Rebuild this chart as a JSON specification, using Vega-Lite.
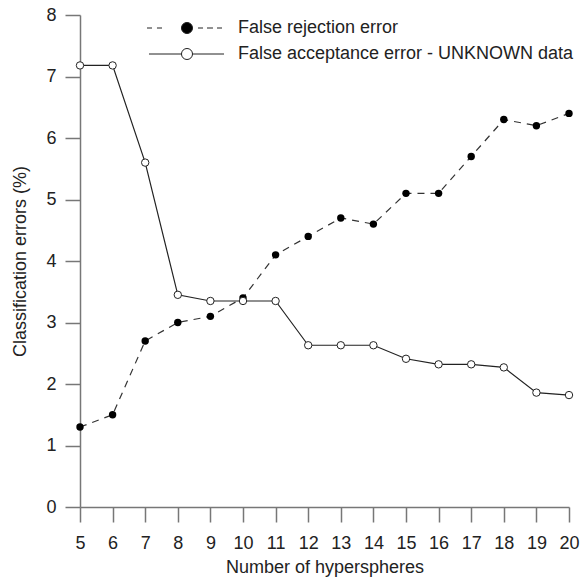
{
  "$schema": "https://vega.github.io/schema/vega-lite/v6.json",
  "width": 489,
  "height": 492,
  "autosize": {"type": "none"},
  "padding": {"left": 80, "top": 15, "right": 11, "bottom": 71},
  "background": "white",
  "config": {
    "view": {"stroke": null},
    "font": "Liberation Sans",
    "axis": {
      "grid": false,
      "domainColor": "#777",
      "domainWidth": 1.5,
      "tickColor": "#777",
      "tickWidth": 1.5,
      "tickSize": 15,
      "labelFont": "Liberation Sans",
      "labelFontSize": 18,
      "labelColor": "#222",
      "labelFlush": false,
      "labelOverlap": false,
      "titleFont": "Liberation Sans",
      "titleFontSize": 18,
      "titleFontWeight": "normal",
      "titleColor": "#222"
    },
    "legend": {
      "labelFont": "Liberation Sans",
      "labelFontSize": 18,
      "labelColor": "#222",
      "labelLimit": 400
    }
  },
  "data": {
    "values": [
      {"n": 5, "series": "False rejection error", "v": 1.3},
      {"n": 6, "series": "False rejection error", "v": 1.5},
      {"n": 7, "series": "False rejection error", "v": 2.7},
      {"n": 8, "series": "False rejection error", "v": 3.0},
      {"n": 9, "series": "False rejection error", "v": 3.1},
      {"n": 10, "series": "False rejection error", "v": 3.4},
      {"n": 11, "series": "False rejection error", "v": 4.1},
      {"n": 12, "series": "False rejection error", "v": 4.4},
      {"n": 13, "series": "False rejection error", "v": 4.7},
      {"n": 14, "series": "False rejection error", "v": 4.6},
      {"n": 15, "series": "False rejection error", "v": 5.1},
      {"n": 16, "series": "False rejection error", "v": 5.1},
      {"n": 17, "series": "False rejection error", "v": 5.7},
      {"n": 18, "series": "False rejection error", "v": 6.3},
      {"n": 19, "series": "False rejection error", "v": 6.2},
      {"n": 20, "series": "False rejection error", "v": 6.4},
      {"n": 5, "series": "False acceptance error - UNKNOWN data", "v": 7.18},
      {"n": 6, "series": "False acceptance error - UNKNOWN data", "v": 7.18},
      {"n": 7, "series": "False acceptance error - UNKNOWN data", "v": 5.6},
      {"n": 8, "series": "False acceptance error - UNKNOWN data", "v": 3.45},
      {"n": 9, "series": "False acceptance error - UNKNOWN data", "v": 3.35},
      {"n": 10, "series": "False acceptance error - UNKNOWN data", "v": 3.35},
      {"n": 11, "series": "False acceptance error - UNKNOWN data", "v": 3.35},
      {"n": 12, "series": "False acceptance error - UNKNOWN data", "v": 2.63},
      {"n": 13, "series": "False acceptance error - UNKNOWN data", "v": 2.63},
      {"n": 14, "series": "False acceptance error - UNKNOWN data", "v": 2.63},
      {"n": 15, "series": "False acceptance error - UNKNOWN data", "v": 2.41},
      {"n": 16, "series": "False acceptance error - UNKNOWN data", "v": 2.32},
      {"n": 17, "series": "False acceptance error - UNKNOWN data", "v": 2.32},
      {"n": 18, "series": "False acceptance error - UNKNOWN data", "v": 2.27},
      {"n": 19, "series": "False acceptance error - UNKNOWN data", "v": 1.86},
      {"n": 20, "series": "False acceptance error - UNKNOWN data", "v": 1.82}
    ]
  },
  "encoding": {
    "x": {
      "field": "n",
      "type": "quantitative",
      "scale": {"domain": [5, 20], "nice": false, "zero": false},
      "axis": {"values": [5,6,7,8,9,10,11,12,13,14,15,16,17,18,19,20], "title": "Number of hyperspheres", "labelPadding": 12, "titlePadding": 6}
    },
    "y": {
      "field": "v",
      "type": "quantitative",
      "scale": {"domain": [0, 8], "nice": false},
      "axis": {"values": [0,1,2,3,4,5,6,7,8], "title": "Classification errors (%)", "labelPadding": 9, "titlePadding": 16}
    }
  },
  "layer": [
    {
      "transform": [{"filter": "datum.series === 'False rejection error'"}],
      "mark": {"type": "line", "color": "#333", "strokeWidth": 1.2, "strokeDash": [7, 6]},
      "encoding": {}
    },
    {
      "transform": [{"filter": "datum.series !== 'False rejection error'"}],
      "mark": {"type": "line", "color": "#222", "strokeWidth": 1.2},
      "encoding": {}
    },
    {
      "transform": [{"filter": "datum.series === 'False rejection error'"}],
      "mark": {"type": "point", "shape": "circle", "filled": true, "color": "black", "size": 55, "opacity": 1},
      "encoding": {}
    },
    {
      "transform": [{"filter": "datum.series !== 'False rejection error'"}],
      "mark": {"type": "point", "shape": "circle", "filled": false, "fill": "white", "stroke": "#222", "strokeWidth": 1, "size": 55, "opacity": 1},
      "encoding": {}
    },
    {
      "transform": [{"filter": "false"}],
      "mark": {"type": "point", "filled": true, "stroke": "#222", "strokeWidth": 1, "opacity": 1},
      "encoding": {
        "shape": {
          "field": "series",
          "type": "nominal",
          "scale": {
            "domain": ["False rejection error", "False acceptance error - UNKNOWN data"],
            "range": [
              "M-5.71,0H-5M-4.29,0H-3.57M1.57,0H2.29M2.86,0H3.71M4.29,0H5M0.79,0A0.79,0.79,0,1,1,-0.79,0A0.79,0.79,0,1,1,0.79,0Z",
              "M-5.43,0H-0.79M0.79,0H5.29M0.79,0A0.79,0.79,0,1,1,-0.79,0A0.79,0.79,0,1,1,0.79,0Z"
            ]
          },
          "legend": {
            "title": null,
            "orient": "none",
            "legendX": 98,
            "legendY": 4,
            "padding": 0,
            "symbolSize": 196,
            "symbolStrokeWidth": 1,
            "labelOffset": 42,
            "rowPadding": 8
          }
        },
        "fill": {
          "field": "series",
          "type": "nominal",
          "scale": {
            "domain": ["False rejection error", "False acceptance error - UNKNOWN data"],
            "range": ["black", "white"]
          },
          "legend": {
            "title": null,
            "orient": "none",
            "legendX": 98,
            "legendY": 4,
            "padding": 0,
            "symbolSize": 196,
            "symbolStrokeWidth": 1,
            "labelOffset": 42,
            "rowPadding": 8
          }
        }
      }
    }
  ]
}
